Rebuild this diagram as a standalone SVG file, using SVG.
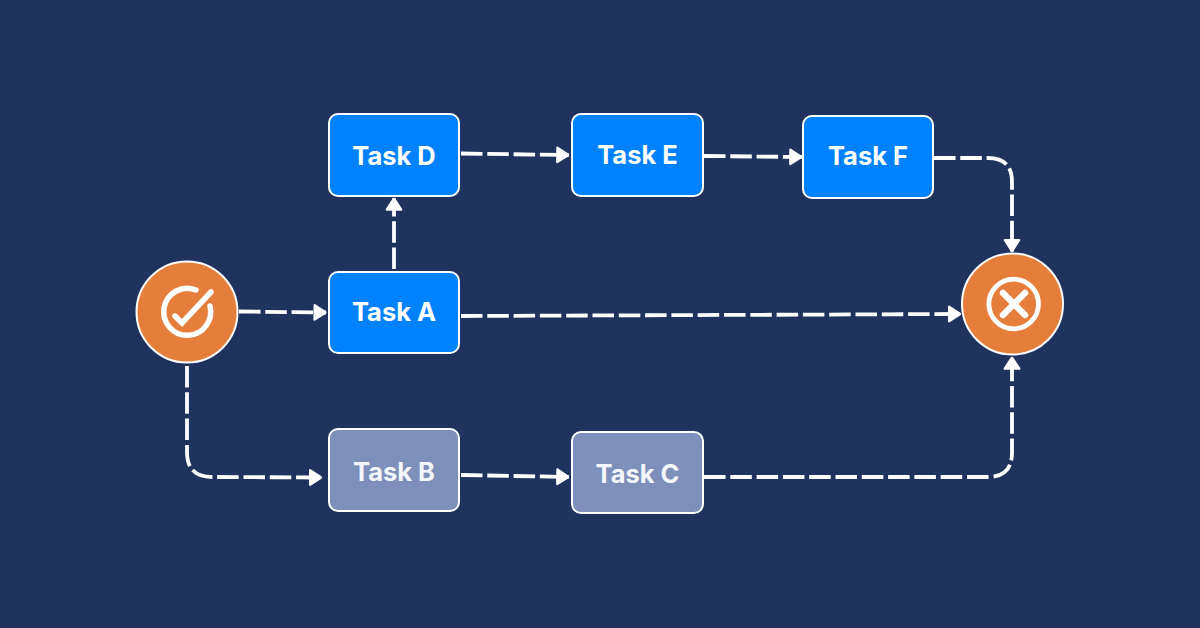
<svg xmlns="http://www.w3.org/2000/svg" width="1200" height="628" viewBox="0 0 1200 628">
<style>
.bg{fill:#20335f}
.task rect{stroke:#fff;stroke-width:2}
.a rect{fill:#0082ff}
.b rect{fill:#7f8fbb}
.task text{font-family:Inter,"Liberation Sans",sans-serif;font-weight:700;font-size:25.500px;fill:#fff;text-anchor:middle}
.b text{fill:#f4f6fb}
.c{fill:none;stroke:#fff;stroke-width:3.800;stroke-dasharray:21.500 4.800}
.circ{fill:#e47e3a;stroke:#fff;stroke-width:2}
.ic{fill:none;stroke:#fff;stroke-linecap:round}
</style>
<defs>
<marker id="ah" markerUnits="userSpaceOnUse" markerWidth="15" markerHeight="20" refX="13" refY="10" orient="auto">
<path d="M2.200 1.800 L13 8.800 Q14.300 10 13 11.200 L2.200 18.200 Q0.500 19 0.500 17 L0.500 3 Q0.500 1 2.200 1.800Z" fill="#fff"/>
</marker>
</defs>
<rect class="bg" width="1200" height="628"/>
<g id="connectors">
<path class="c" marker-end="url(#ah)" d="M239 311.500 L326 312.500"/>
<path class="c" marker-end="url(#ah)" d="M394 269 V198.300"/>
<path class="c" marker-end="url(#ah)" d="M461 153.500 L568.700 155"/>
<path class="c" marker-end="url(#ah)" d="M704 156 L801.700 157"/>
<path class="c" marker-end="url(#ah)" d="M934 158 H988 Q1012 158 1012 182 V251.400"/>
<path class="c" marker-end="url(#ah)" d="M461 316 L960.500 314"/>
<path class="c" marker-end="url(#ah)" d="M187 366 V452 Q187 477 212 477 L321.500 477.500"/>
<path class="c" marker-end="url(#ah)" d="M461 475 L568.700 477"/>
<path class="c" marker-end="url(#ah)" d="M704 477 H988 Q1012 477 1012 453 V357.300"/>
</g>
<g id="start">
<circle class="circ" cx="187" cy="312" r="50.500"/>
<path class="ic" stroke-width="5.500" d="M196 290 A23.500 23.500 0 1 0 210 306"/>
<path class="ic" stroke-width="5.500" d="M175 316 L182 323 L211 292"/>
</g>
<g id="end">
<circle class="circ" cx="1012.500" cy="304" r="50.500"/>
<circle class="ic" stroke-width="4.800" cx="1013.700" cy="304" r="24.800"/>
<path class="ic" stroke-width="6.500" stroke-linecap="butt" d="M1003 293 L1025 315 M1025 293 L1003 315"/>
</g>
<g id="task-d" class="task a"><rect x="329" y="114" width="130" height="82" rx="9"/><text x="394" y="165">Task D</text></g>
<g id="task-e" class="task a"><rect x="572" y="114" width="131" height="82" rx="9"/><text x="637.500" y="164">Task E</text></g>
<g id="task-f" class="task a"><rect x="803" y="116" width="130" height="82" rx="9"/><text x="868" y="165">Task F</text></g>
<g id="task-a" class="task a"><rect x="329" y="272" width="130" height="81" rx="9"/><text x="394" y="321">Task A</text></g>
<g id="task-b" class="task b"><rect x="329" y="429" width="130" height="82" rx="9"/><text x="394" y="481">Task B</text></g>
<g id="task-c" class="task b"><rect x="572" y="432" width="131" height="81" rx="9"/><text x="637.500" y="483">Task C</text></g>
</svg>
